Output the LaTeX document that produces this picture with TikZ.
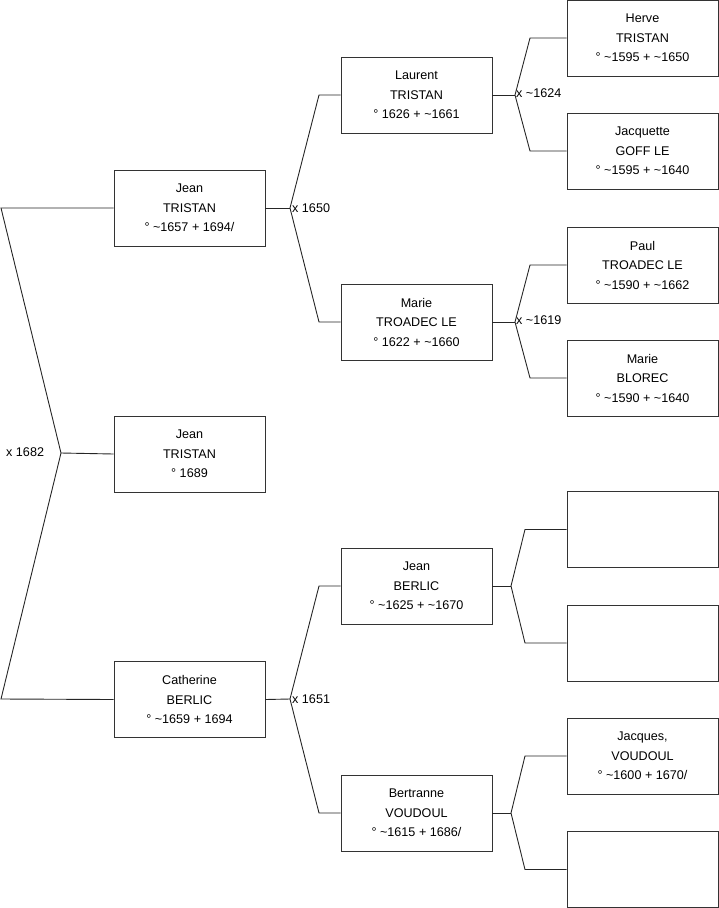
\documentclass[tikz,border=0pt]{standalone}
\usepackage{fontspec}
\setmainfont{Liberation Sans}
\begin{document}
\begin{tikzpicture}[x=1pt,y=-1pt,
  person/.style={draw=black!80,line width=0.9pt,rectangle,minimum width=151pt,minimum height=76pt,inner sep=0pt,align=center,font=\fontsize{12.6}{19.5}\selectfont},
  link/.style={draw=black!85,line width=0.9pt},
  mlabel/.style={inner sep=0pt,font=\fontsize{12.6}{14}\selectfont}]
\useasboundingbox (0,0) rectangle (719,908);
% column 1
\node[person] (j1) at (189.5,208) {Jean\\TRISTAN\\° \textasciitilde1657 + 1694/};
\node[person] (jm) at (189.5,454) {Jean\\TRISTAN\\° 1689};
\node[person] (c1) at (189.5,699.5) {Catherine\\BERLIC\\° \textasciitilde1659 + 1694};
% column 2
\node[person] (la) at (416.5,95) {Laurent\\TRISTAN\\° 1626 + \textasciitilde1661};
\node[person] (ma) at (416.5,322) {Marie\\TROADEC LE\\° 1622 + \textasciitilde1660};
\node[person] (jb) at (416.5,586) {Jean\\BERLIC\\° \textasciitilde1625 + \textasciitilde1670};
\node[person] (be) at (416.5,813) {Bertranne\\VOUDOUL\\° \textasciitilde1615 + 1686/};
% column 3
\node[person] (he) at (642.5,38) {Herve\\TRISTAN\\° \textasciitilde1595 + \textasciitilde1650};
\node[person] (ja) at (642.5,151) {Jacquette\\GOFF LE\\° \textasciitilde1595 + \textasciitilde1640};
\node[person] (pa) at (642.5,265) {Paul\\TROADEC LE\\° \textasciitilde1590 + \textasciitilde1662};
\node[person] (mb) at (642.5,378) {Marie\\BLOREC\\° \textasciitilde1590 + \textasciitilde1640};
\node[person] (e1) at (642.5,529.5) {};
\node[person] (e2) at (642.5,643) {};
\node[person] (jq) at (642.5,756) {Jacques,\\VOUDOUL\\° \textasciitilde1600 + 1670/};
\node[person] (e4) at (642.5,869.5) {};
% coordinates
\coordinate (L0) at (61,453);
\coordinate (Lt) at (1,208);
\coordinate (Lb) at (1,699);
\coordinate (V1) at (290,208);
\coordinate (V1t) at (319,95);
\coordinate (V1b) at (319,322);
\coordinate (V2) at (290,699);
\coordinate (V2t) at (319,586);
\coordinate (V2b) at (319,813);
\coordinate (V3) at (515,95);
\coordinate (V3t) at (530,38);
\coordinate (V3b) at (530,151);
\coordinate (V4) at (515,322);
\coordinate (V4t) at (530,265);
\coordinate (V4b) at (530,378);
\coordinate (V5) at (511,586);
\coordinate (V5t) at (525,529.5);
\coordinate (V5b) at (525,643);
\coordinate (V6) at (511,813);
\coordinate (V6t) at (525,756);
\coordinate (V6b) at (525,869.5);
% connectors
\draw[link] (j1.west) -- (Lt) -- (L0) -- (Lb) -- (c1.west);
\draw[link] (L0) -- (jm.west);
\draw[link] (j1.east) -- (V1);
\draw[link] (la.west) -- (V1t) -- (V1) -- (V1b) -- (ma.west);
\draw[link] (c1.east) -- (V2);
\draw[link] (jb.west) -- (V2t) -- (V2) -- (V2b) -- (be.west);
\draw[link] (la.east) -- (V3);
\draw[link] (he.west) -- (V3t) -- (V3) -- (V3b) -- (ja.west);
\draw[link] (ma.east) -- (V4);
\draw[link] (pa.west) -- (V4t) -- (V4) -- (V4b) -- (mb.west);
\draw[link] (jb.east) -- (V5);
\draw[link] (e1.west) -- (V5t) -- (V5) -- (V5b) -- (e2.west);
\draw[link] (be.east) -- (V6);
\draw[link] (jq.west) -- (V6t) -- (V6) -- (V6b) -- (e4.west);
% marriage labels
\node[mlabel,anchor=west] (m1) at (6,452) {x 1682};
\node[mlabel,anchor=west] (m2) at (292,208) {x 1650};
\node[mlabel,anchor=west] (m3) at (292,699) {x 1651};
\node[mlabel,anchor=west] (m4) at (516,93) {x \textasciitilde1624};
\node[mlabel,anchor=west] (m5) at (516,320) {x \textasciitilde1619};
\end{tikzpicture}
\end{document}
